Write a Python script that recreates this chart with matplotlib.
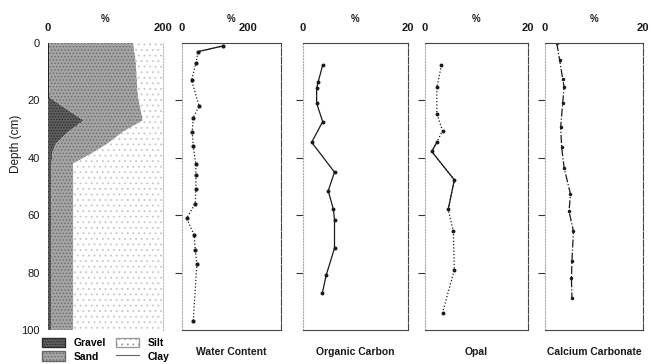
import matplotlib.pyplot as plt
from matplotlib.patches import Patch
from matplotlib.lines import Line2D

plt.rcParams["font.family"] = ["Liberation Sans", "DejaVu Sans"]
plt.rcParams["hatch.linewidth"] = 0.6

# ---------- grain size (cumulative %, axis 0-200) ----------
gs_depth = [0, 5, 10, 15, 19, 23, 27, 31, 35, 38, 42, 50, 60, 70, 80, 90, 100]
gravel_edge = [2, 2, 2, 2, 3, 32, 62, 35, 14, 8, 6, 6, 6, 6, 6, 6, 6]
sand_edge = [148, 152, 154, 155, 157, 161, 165, 130, 104, 80, 44, 44, 44, 44, 44, 44, 44]
silt_edge = [200] * len(gs_depth)

# ---------- profiles ----------
wc_depth = [1, 3, 7, 13, 22, 26, 31, 36, 42, 46, 51, 56, 61, 67, 72, 77, 97]
wc_value = [125, 49, 42, 29, 52, 34, 31, 34, 42, 42, 42, 40, 14, 37, 40, 45, 34]

oc_depth = [7.7, 13.5, 15.8, 21, 27.4, 34.6, 45, 51.5, 58, 61.7, 71.5, 81, 87]
oc_value = [3.75, 2.9, 2.6, 2.6, 3.75, 1.65, 6.0, 4.8, 5.8, 6.0, 6.0, 4.4, 3.7]

opal_depth = [7.7, 15.5, 24.6, 30.5, 34.6, 37.8, 47.7, 58, 65.6, 79, 94]
opal_value = [3.2, 2.3, 2.3, 3.4, 2.3, 1.3, 5.7, 4.5, 5.5, 5.7, 3.4]

caco3_depth = [0, 6, 12.4, 15.3, 21, 29.4, 36.4, 43.4, 52.7, 58.6, 65.6, 76, 82, 89]
caco3_value = [2.4, 3.0, 3.6, 3.9, 3.6, 3.2, 3.4, 3.9, 5.2, 4.9, 5.8, 5.5, 5.4, 5.5]

ink = "#1a1a1a"
W, H = 650, 364

gravel_style = dict(facecolor="#5e5e5e", edgecolor="#2a2a2a", hatch="......")
sand_style = dict(facecolor="#a4a4a4", edgecolor="#6a6a6a", hatch=".....")
silt_style = dict(facecolor="white", edgecolor="#c6c6c6", hatch="...")


def box(left, right, top=43, bottom=330):
    return [left / W, 1 - bottom / H, (right - left) / W, (bottom - top) / H]


fig = plt.figure(figsize=(6.5, 3.64), dpi=100)

# ---------- panel 1: grain size ----------
ax0 = fig.add_axes(box(48, 163))
ax0.fill_betweenx(gs_depth, 0, gravel_edge, linewidth=0, **gravel_style)
ax0.fill_betweenx(gs_depth, gravel_edge, sand_edge, linewidth=0, **sand_style)
ax0.fill_betweenx(gs_depth, sand_edge, silt_edge, linewidth=0, **silt_style)
ax0.plot([0, 0], [0, 19], color=ink, lw=1.2)
ax0.set_xlim(0, 200)
ax0.set_ylim(100, 0)
ax0.set_yticks([0, 20, 40, 60, 80, 100])
ax0.set_ylabel("Depth (cm)", fontsize=8.5, color=ink, labelpad=6)
ax0.yaxis.set_label_coords(-0.23, 0.65)
for s in ["left", "top", "bottom"]:
    ax0.spines[s].set_visible(False)
ax0.spines["right"].set_color("#bbbbbb")
ax0.spines["right"].set_linestyle(":")
ax0.spines["right"].set_linewidth(0.8)
ax0.tick_params(axis="y", length=0, labelsize=8, pad=6, labelcolor=ink)


def top_axis(ax, xmax, label_max):
    ax.xaxis.tick_top()
    ax.xaxis.set_label_position("top")
    ax.set_xticks([0, label_max])
    ax.set_xticklabels(["0", str(label_max)], fontweight="bold")
    ax.tick_params(axis="x", length=0, labelsize=8, pad=7, labelcolor=ink)
    ax.set_xlabel("%", fontsize=7, fontweight="bold", color=ink, labelpad=1)
    ax.set_xlim(0, xmax)


top_axis(ax0, 200, 200)


def profile(left, right, xmax, label_max, title):
    ax = fig.add_axes(box(left, right))
    ax.set_ylim(100, 0)
    top_axis(ax, xmax, label_max)
    ax.set_yticks([20, 40, 60, 80])
    ax.set_yticklabels([])
    ax.tick_params(axis="y", length=5, width=0.8, color="#333333")
    for s in ["top", "right", "bottom"]:
        ax.spines[s].set_color("#444444")
        ax.spines[s].set_linewidth(0.8)
    ax.spines["left"].set_color("#aaaaaa")
    ax.spines["left"].set_linestyle(":")
    ax.spines["left"].set_linewidth(0.8)
    ax.spines["right"].set_linestyle((0, (6, 1.5)))
    ax.text(0.5, -0.06, title, transform=ax.transAxes, ha="center", va="top",
            fontsize=7.5, fontweight="bold", color=ink)
    return ax


ax1 = profile(182, 281, 300, 200, "Water Content")
ax1.plot(wc_value, wc_depth, ls=":", color=ink, lw=0.9, marker="o", ms=2)
ax1.plot(wc_value[:2], wc_depth[:2], ls="-", color=ink, lw=0.9)

ax2 = profile(303, 408, 20, 20, "Organic Carbon")
ax2.plot(oc_value, oc_depth, ls="-", color=ink, lw=0.9, marker="o", ms=1.8)

ax3 = profile(425, 528, 20, 20, "Opal")
ax3.plot(opal_value, opal_depth, ls=":", color=ink, lw=0.9, marker="o", ms=1.8)
ax3.plot(opal_value[4:8], opal_depth[4:8], ls="-", color=ink, lw=0.9)

ax4 = profile(545, 643, 20, 20, "Calcium Carbonate")
ax4.plot(caco3_value, caco3_depth, ls="-.", color=ink, lw=0.9, marker="o", ms=1.5)

# ---------- legend ----------
handles = [
    Patch(label="Gravel", **gravel_style),
    Patch(label="Sand", **sand_style),
    Patch(label="Silt", facecolor="white", edgecolor="#999999", hatch="..."),
    Line2D([], [], color="#666666", lw=0.8, label="Clay"),
]
fig.legend(handles=handles, loc="upper left", bbox_to_anchor=(42 / W, 1 - 338 / H),
           ncol=2, frameon=False, handlelength=2.2, handleheight=1.0,
           columnspacing=1.0, labelspacing=0.3, borderaxespad=0, borderpad=0,
           prop={"weight": "bold", "size": 7.5})

fig.savefig("out.png", dpi=100)
